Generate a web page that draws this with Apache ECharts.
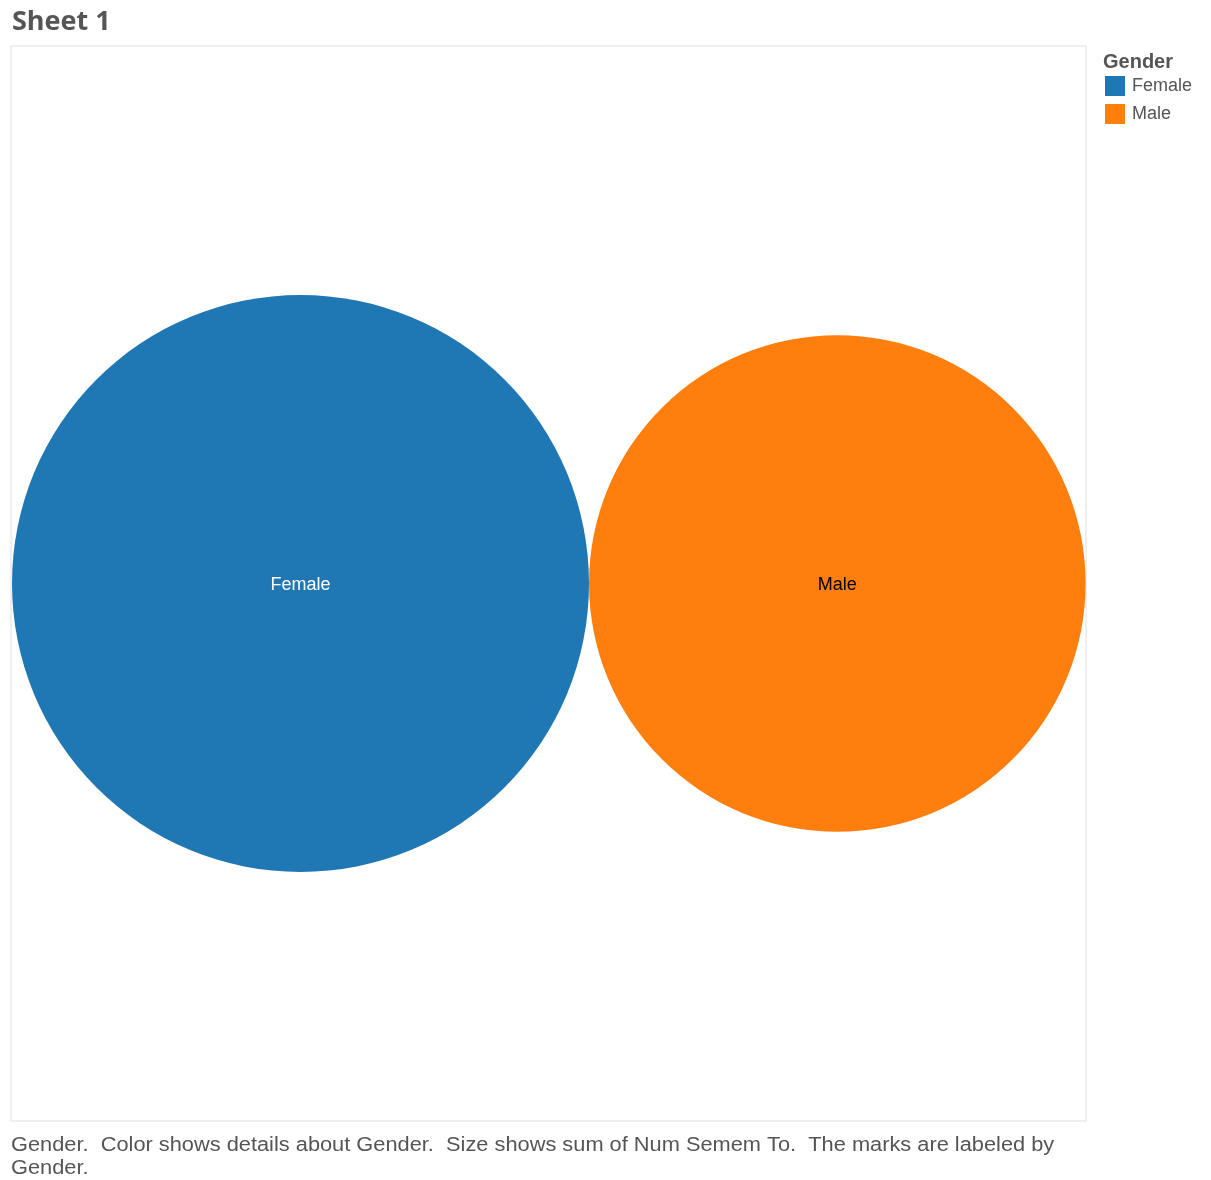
<!DOCTYPE html>
<html><head><meta charset="utf-8">
<script src="https://cdn.jsdelivr.net/npm/echarts@6/dist/echarts.min.js"></script>
<style>html,body{margin:0;padding:0;background:#fff}#c{width:1211px;height:1180px}</style>
</head><body><div id="c"></div>
<script>
const categories = ['Female', 'Male'];
const values = [1350, 1000];
const colors = ['#1F77B4', '#FF7F0E'];
const labelColors = ['#ffffff', '#000000'];

const chart = echarts.init(document.getElementById('c'));
const G = 1075; // grid size in px, axes in px units
const maxR = 288.5;
const k = maxR / Math.sqrt(Math.max(...values));
const radii = values.map(v => k * Math.sqrt(v));
// pack circles side by side, vertically centered
const centers = [];
let x = 1;
radii.forEach((r, i) => { centers.push(x + r); x += 2 * r; });

const series = categories.map((c, i) => ({
  name: c,
  type: 'scatter',
  data: [{ value: [centers[i], G / 2, values[i]], name: c }],
  symbolSize: 2 * radii[i],
  itemStyle: { color: colors[i], opacity: 1 },
  label: { show: true, position: 'inside', formatter: c, color: labelColors[i], offset: [0, 2],
    fontFamily: 'Liberation Sans, Arial, sans-serif', fontSize: 18 },
  emphasis: { disabled: true },
  silent: true
}));

chart.setOption({
  animation: false,
  title: { text: 'Sheet 1', left: 7, top: 4,
    textStyle: { fontFamily: 'Open Sans, sans-serif', fontWeight: 'bold', fontSize: 27, color: '#555' } },
  grid: { left: 11, top: 46, width: G, height: G, show: true, borderColor: '#e0e0e0', borderWidth: 1, backgroundColor: '#fff' },
  xAxis: { type: 'value', min: 0, max: G, show: false },
  yAxis: { type: 'value', min: 0, max: G, show: false },
  legend: { orient: 'vertical', left: 1100, top: 71, icon: 'rect', itemWidth: 20, itemHeight: 20, itemGap: 8,
    data: categories, selectedMode: false,
    textStyle: { fontFamily: 'Liberation Sans, Arial, sans-serif', fontSize: 18, color: '#555', padding: [0,0,0,2] } },
  graphic: [
    { type: 'text', left: 1103, top: 52, style: { text: 'Gender', font: 'bold 20px Liberation Sans, Arial, sans-serif', fill: '#555' } },
    { type: 'text', x: 11, y: 1134, scaleX: 1.09, style: { text: 'Gender.  Color shows details about Gender.  Size shows sum of Num Semem To.  The marks are labeled by\nGender.', font: '20px Liberation Sans, Arial, sans-serif', fill: '#555', lineHeight: 23 } }
  ],
  series
});
</script></body></html>
